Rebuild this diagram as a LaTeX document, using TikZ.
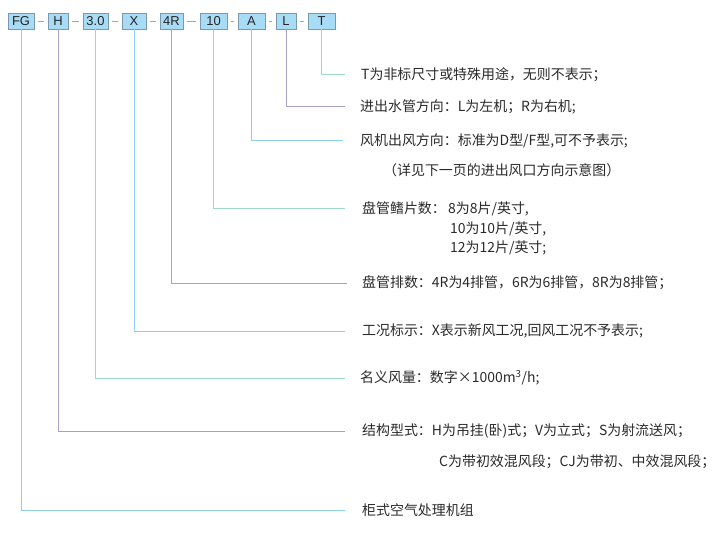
\documentclass[tikz,border=0pt]{standalone}
\usepackage{fontspec}
\setmainfont{Noto Sans CJK SC}
\newfontfamily\boxfont{Liberation Sans}
\usepackage{tikz}
\definecolor{blueline}{HTML}{8CCFEC}
\definecolor{purpleline}{HTML}{A6A2C6}
\definecolor{greenline}{HTML}{9ED9C2}
\definecolor{boxfill}{HTML}{A8DBF5}
\definecolor{boxdraw}{HTML}{7A9AAC}
\definecolor{textgray}{HTML}{2A2A2A}
\tikzset{
  codebox/.style={draw=boxdraw, fill=boxfill, line width=0.8bp, inner sep=0pt,
    minimum height=16bp, font=\boxfont\fontsize{13}{14}\selectfont, text=black!85},
  sepline/.style={draw=gray!70, line width=0.8bp},
  lead/.style={line width=1bp},
  note/.style={anchor=west, inner sep=0pt, text=textgray,
    font=\fontsize{14}{16}\selectfont}
}
\begin{document}
\begin{tikzpicture}[x=1bp, y=-1bp]
				\useasboundingbox (0,0) rectangle (720,534);
				% code boxes
				\node[codebox, minimum width=26bp] (fg) at (21,21) {FG};
				\node[codebox, minimum width=20bp] (h) at (58,21) {H};
				\node[codebox, minimum width=25bp] (cap) at (95.5,21) {3.0};
				\node[codebox, minimum width=24bp] (x) at (134,21) {X};
				\node[codebox, minimum width=23bp] (row) at (171.5,21) {4R};
				\node[codebox, minimum width=27bp] (fin) at (213.5,21) {10};
				\node[codebox, minimum width=27bp] (a) at (251.5,21) {A};
				\node[codebox, minimum width=20bp] (l) at (286,21) {L};
				\node[codebox, minimum width=27bp] (t) at (321.5,21) {T};
				\draw[sepline] ([xshift=4bp]fg.east) -- ([xshift=-4bp]h.west);
				\draw[sepline] ([xshift=4bp]h.east) -- ([xshift=-4bp]cap.west);
				\draw[sepline] ([xshift=4bp]cap.east) -- ([xshift=-4bp]x.west);
				\draw[sepline] ([xshift=4bp]x.east) -- ([xshift=-4bp]row.west);
				\draw[sepline] ([xshift=4bp]row.east) -- ([xshift=-4bp]fin.west);
				\draw[sepline] ([xshift=4bp]fin.east) -- ([xshift=-4bp]a.west);
				\draw[sepline] ([xshift=4bp]a.east) -- ([xshift=-4bp]l.west);
				\draw[sepline] ([xshift=4bp]l.east) -- ([xshift=-4bp]t.west);
				% notes
				\node[note] (tT) at (361,75) {T为非标尺寸或特殊用途，无则不表示；};
				\node[note] (tL) at (360,107) {进出水管方向：L为左机；R为右机;};
				\node[note] (tA) at (360,141) {风机出风方向：标准为D型/F型,可不予表示;};
				\node[note] (tA2) at (383,170) {（详见下一页的进出风口方向示意图）};
				\node[note] (tFin) at (362,209) {盘管鳍片数：\,8为8片/英寸,};
				\node[note] (tFin2) at (450,229) {10为10片/英寸,};
				\node[note] (tFin3) at (450,248) {12为12片/英寸;};
				\node[note] (tRow) at (362,283) {盘管排数：4R为4排管，6R为6排管，8R为8排管；};
				\node[note] (tX) at (362,331) {工况标示：X表示新风工况,回风工况不予表示;};
				\node[note] (tCap) at (360,378) {名义风量：数字×1000m\textsuperscript{3}/h;};
				\node[note] (tH) at (362,431) {结构型式：H为吊挂(卧)式；V为立式；S为射流送风；};
				\node[note] (tH2) at (439,462) {C为带初效混风段；CJ为带初、中效混风段；};
				\node[note] (tFG) at (362,510) {柜式空气处理机组};
				% leaders
				\draw[lead, greenline] (t.south) |- ([xshift=-16bp]tT.west);
				\draw[lead, purpleline] (l.south) |- ([xshift=-15bp]tL.west);
				\draw[lead, blueline] (a.south) |- ([xshift=-17bp]tA.west);
				\draw[lead, greenline] (fin.south) |- ([xshift=-17bp]tFin.west);
				\draw[lead, purpleline] (row.south) |- ([xshift=-15bp]tRow.west);
				\draw[lead, blueline] (x.south) |- ([xshift=-17bp]tX.west);
				\draw[lead, greenline] (cap.south) |- ([xshift=-15bp]tCap.west);
				\draw[lead, purpleline] (h.south) |- ([xshift=-17bp]tH.west);
				\draw[lead, blueline] (fg.south) |- ([xshift=-17bp]tFG.west);
\end{tikzpicture}
\end{document}
